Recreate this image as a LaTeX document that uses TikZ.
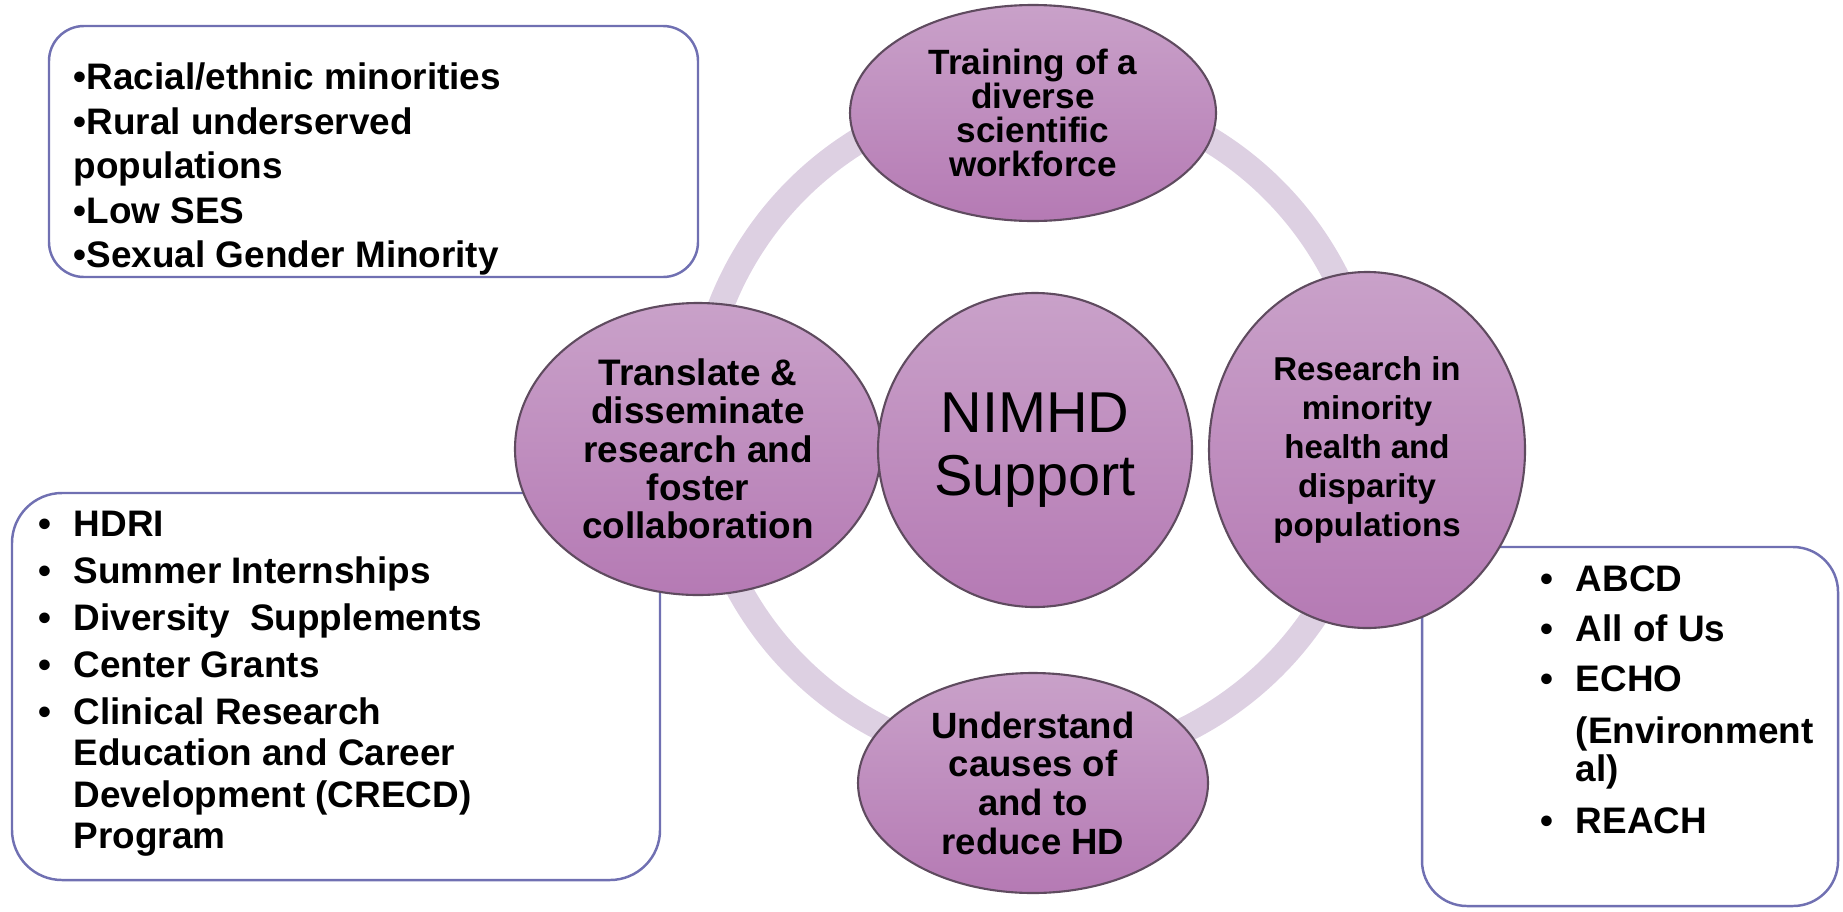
\documentclass[tikz,border=0pt]{standalone}
\usepackage{fontspec}
\setmainfont{Liberation Sans}
\usepackage{tikz}
\usetikzlibrary{shapes.geometric, positioning}
\definecolor{ringlilac}{RGB}{221,208,226}
\definecolor{lilactop}{RGB}{201,161,201}
\definecolor{lilacbot}{RGB}{181,122,180}
\definecolor{lilacline}{RGB}{95,75,95}
\definecolor{boxblue}{RGB}{112,112,178}
\newcommand{\bulmark}{\makebox[0.95em][l]{\textbullet}}
\newcommand{\bulskip}{\hspace*{0.95em}}

\begin{document}
\begin{tikzpicture}[
    bubble/.style={ellipse,draw=lilacline,line width=0.6pt,top color=lilactop,bottom color=lilacbot,inner sep=0pt,align=center},
    infobox/.style={rectangle,draw=boxblue,fill=white,line width=0.7pt},
    listtext/.style={anchor=north west,inner sep=0pt,align=left,font=\fontsize{10.5}{11.8}\selectfont\bfseries}
]
    \useasboundingbox (0,0) rectangle (18.43,9.11);

    % Anello
    \coordinate (ringc) at (10.35,4.83);
    \draw[ringlilac,line width=0.26cm] (ringc) circle (3.37);

    % Riquadri
    \node[infobox,rounded corners=0.35cm,minimum width=6.49cm,minimum height=2.51cm] (popbox) at (3.735,7.595) {};
    \node[infobox,rounded corners=0.5cm,minimum width=6.48cm,minimum height=3.87cm] (progbox) at (3.36,2.245) {};
    \node[infobox,rounded corners=0.45cm,minimum width=4.16cm,minimum height=3.59cm] (studybox) at (16.30,1.845) {};

    \node[listtext,font=\fontsize{10.5}{12.7}\selectfont\bfseries] (poptext) at (0.73,8.49) {
        \textbullet Racial/ethnic minorities\\
        \textbullet Rural underserved\\
        populations\\
        \textbullet Low SES\\
        \textbullet Sexual Gender Minority
    };
    \node[listtext] (progtext) at (0.38,4.01) {
        \bulmark HDRI\\[1.6pt]
        \bulmark Summer Internships\\[1.6pt]
        \bulmark Diversity\ \ Supplements\\[1.6pt]
        \bulmark Center Grants\\[1.6pt]
        \bulmark Clinical Research\\
        \bulskip Education and Career\\
        \bulskip Development (CRECD)\\
        \bulskip Program
    };
    \node[listtext,font=\fontsize{10.5}{10.8}\selectfont\bfseries] (studytext) at (15.40,3.46) {
        \bulmark ABCD\\[3.4pt]
        \bulmark All of Us\\[3.4pt]
        \bulmark ECHO\\[4pt]
        \bulskip (Environment\\
        \bulskip al)\\[4pt]
        \bulmark REACH
    };

    % Cerchi
    \node[bubble,minimum width=3.66cm,minimum height=2.16cm,font=\fontsize{10}{9.6}\selectfont\bfseries] (train) at (10.33,7.98) {Training of a\\ diverse\\ scientific\\ workforce};
    \node[bubble,minimum width=3.66cm,minimum height=2.92cm,font=\fontsize{10.5}{10.9}\selectfont\bfseries] (transl) at (6.98,4.62) {Translate \&\\ disseminate\\ research and\\ foster\\ collaboration};
    \node[bubble,circle,minimum size=3.14cm,font=\fontsize{16.4}{18}\selectfont] (hub) at (10.35,4.61) {NIMHD\\ Support};
    \node[bubble,minimum width=3.16cm,minimum height=3.56cm,font=\fontsize{9.4}{11.1}\selectfont\bfseries] (research) at (13.67,4.61) {Research in\\ minority\\ health and\\ disparity\\ populations};
    \node[bubble,minimum width=3.50cm,minimum height=2.20cm,font=\fontsize{10.4}{11}\selectfont\bfseries] (causes) at (10.33,1.28) {Understand\\ causes of\\ and to\\ reduce HD};
\end{tikzpicture}
\end{document}
